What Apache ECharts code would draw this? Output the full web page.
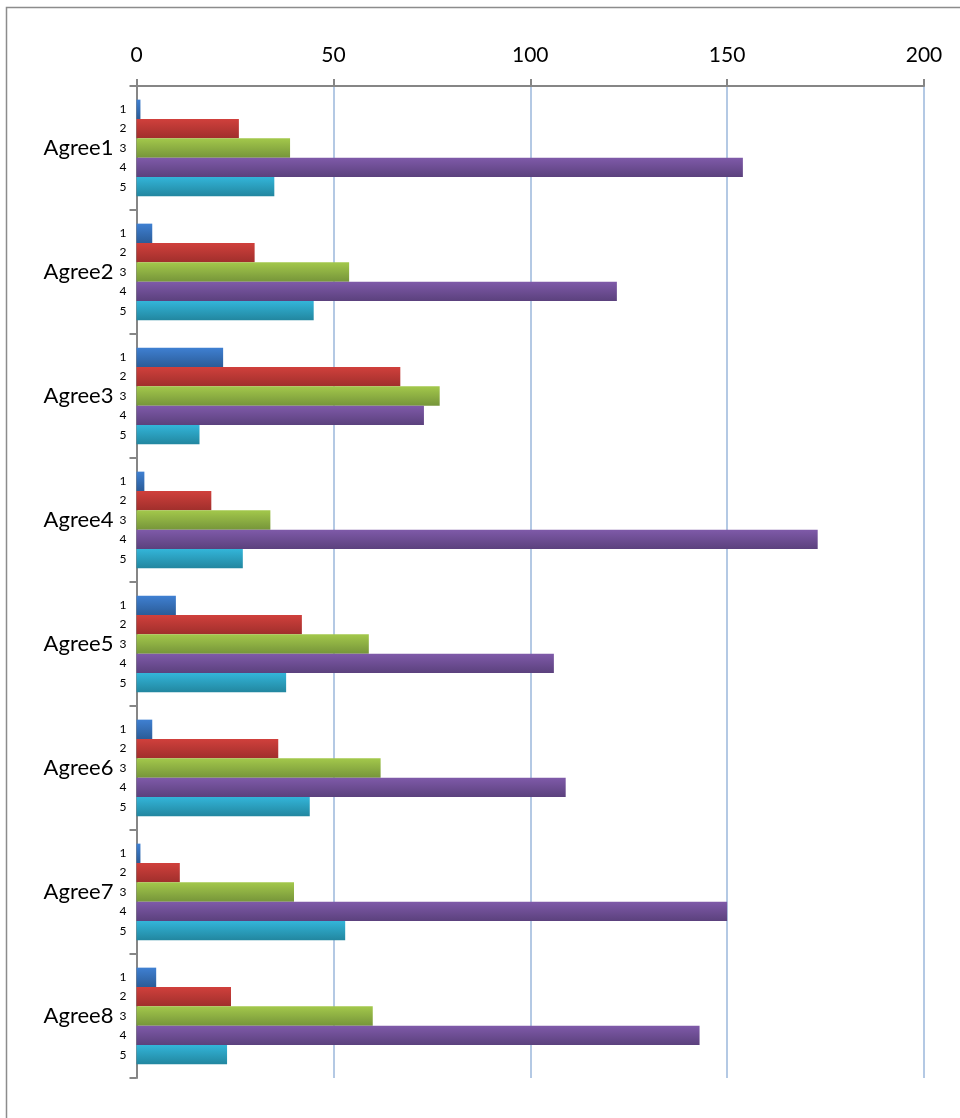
<!DOCTYPE html>
<html>
<head>
<meta charset="utf-8">
<script src="https://cdn.jsdelivr.net/npm/echarts@6/dist/echarts.min.js"></script>
<style>
  html, body { margin: 0; padding: 0; background: #ffffff; }
  #chart { width: 960px; height: 1118px; }
</style>
</head>
<body>
<div id="chart"></div>
<script>
// Questions (groups) and the five response levels inside each group
const categories = ['Agree1', 'Agree2', 'Agree3', 'Agree4', 'Agree5', 'Agree6', 'Agree7', 'Agree8'];
const levels = ['1', '2', '3', '4', '5'];

// Counts per response level, one value per question
const level1 = [1, 4, 22, 2, 10, 4, 1, 5];
const level2 = [26, 30, 67, 19, 42, 36, 11, 24];
const level3 = [39, 54, 77, 34, 59, 62, 40, 60];
const level4 = [154, 122, 73, 173, 106, 109, 150, 143];
const level5 = [35, 45, 16, 27, 38, 44, 53, 23];

// Value axis ticks
const xTicks = [0, 50, 100, 150, 200];

const seriesValues = [level1, level2, level3, level4, level5];

// Top/bottom colours of each bar gradient
const palette = [
  ['#3f80d2', '#2b5c98'],
  ['#d0403c', '#a02f2c'],
  ['#a3c84b', '#76953a'],
  ['#7f5aa9', '#5b417d'],
  ['#33b5d9', '#22869f']
];

const chart = echarts.init(document.getElementById('chart'), null, { renderer: 'canvas' });

const FONT = 'Lato, "Open Sans", sans-serif';

const option = {
  backgroundColor: '#ffffff',
  animation: false,
  graphic: [{
    type: 'rect',
    silent: true,
    shape: { x: 6.5, y: 7.5, width: 1000, height: 1200 },
    style: { fill: 'none', stroke: '#8c8c8c', lineWidth: 1.5 }
  }],
  grid: { left: 136.5, top: 86, width: 787.5, height: 992, containLabel: false },
  xAxis: {
    type: 'value',
    position: 'top',
    min: xTicks[0],
    max: xTicks[xTicks.length - 1],
    interval: xTicks[1] - xTicks[0],
    axisLine: { show: true, lineStyle: { color: '#868686', width: 2 } },
    axisTick: { show: true, length: 7, lineStyle: { color: '#868686', width: 2 } },
    axisLabel: { color: '#000000', fontSize: 21, fontFamily: FONT, margin: 20 },
    splitLine: { show: true, lineStyle: { color: '#b4c9e4', width: 2 } }
  },
  yAxis: [{
    type: 'category',
    data: categories,
    inverse: true,
    position: 'left',
    axisLine: { show: true, lineStyle: { color: '#868686', width: 2 } },
    axisTick: { show: true, length: 7, alignWithLabel: false, lineStyle: { color: '#868686', width: 2 } },
    axisLabel: { color: '#000000', fontSize: 22, fontFamily: FONT, margin: 23 }
  }, {
    // Inner level labels 1..5 stacked next to each group
    type: 'category',
    data: categories,
    inverse: true,
    position: 'left',
    offset: 0,
    axisLine: { show: false },
    axisTick: { show: false },
    splitLine: { show: false },
    axisLabel: {
      color: '#000000', fontSize: 12, fontFamily: FONT, margin: 10,
      lineHeight: 19.6, align: 'right',
      formatter: () => levels.join('\n')
    }
  }],
  series: seriesValues.map((vals, i) => ({
    name: levels[i],
    type: 'bar',
    yAxisIndex: 0,
    data: vals,
    barGap: '0%',
    barCategoryGap: '22%',
    itemStyle: {
      color: new echarts.graphic.LinearGradient(0, 0, 0, 1, [
        { offset: 0, color: palette[i][0] },
        { offset: 1, color: palette[i][1] }
      ])
    }
  }))
};

chart.setOption(option);
</script>
</body>
</html>
